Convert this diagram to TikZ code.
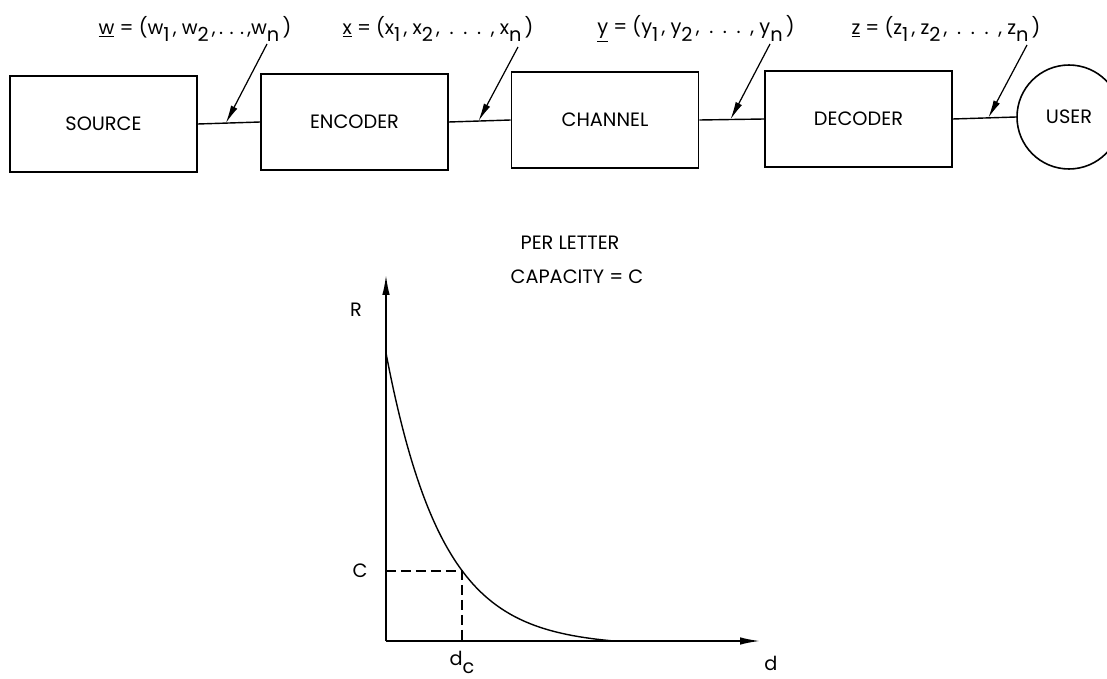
\documentclass[tikz,border=0pt]{standalone}
\usepackage{fontspec}
\setmainfont{Poppins}
\usetikzlibrary{arrows.meta, positioning, calc}
\newcommand{\lowsub}[1]{\raisebox{-0.75ex}{#1}}
\newcommand{\gapdots}{\enspace.\enspace.\enspace.\enspace}

\begin{document}
\begin{tikzpicture}[x=0.02cm, y=-0.02cm,
  blk/.style={draw, line width=0.9pt, minimum width=3.74cm, minimum height=1.92cm,
              inner sep=0pt, font=\fontsize{11}{13}\selectfont},
  usr/.style={draw, circle, line width=0.9pt, minimum size=2.08cm, inner sep=0pt,
              font=\fontsize{11}{13}\selectfont},
  link/.style={line width=0.8pt},
  ptr/.style={-{Latex[length=3.6mm, width=1.4mm]}, line width=0.7pt},
  vec/.style={font=\fontsize{11}{13}\selectfont},
  axis/.style={-{Latex[length=4mm, width=1.5mm]}, line width=0.9pt},
  lbl/.style={font=\fontsize{11}{13}\selectfont},
  guide/.style={dash pattern=on 2mm off 1mm, line width=0.7pt}
]
\useasboundingbox (0,0) rectangle (1107,679);
% ----- chain of blocks -----
\node[blk] (src) at (103.5,124) {SOURCE};
\node[blk] (enc) at (354.5,122) {ENCODER};
\node[blk] (chn) at (605,120) {CHANNEL};
\node[blk] (dec) at (858.5,119) {DECODER};
\node[usr] (usr) at (1069,117) {USER};
\draw[link] (src.east) -- coordinate[pos=0.45] (wpt) (enc.west);
\draw[link] (enc.east) -- coordinate[pos=0.48] (xpt) (chn.west);
\draw[link] (chn.east) -- coordinate[pos=0.48] (ypt) (dec.west);
\draw[link] (dec.east) -- coordinate[pos=0.56] (zpt) (usr.west);
% ----- sequence labels -----
\node[vec] (wlab) at (195,29) {\underline{w} = (w\lowsub{1}\,, w\lowsub{2}\,,\,.\,\,.\,\,.\,,w\lowsub{n}\,)};
\node[vec] (xlab) at (438,29) {\underline{x} = (x\lowsub{1}\,, x\lowsub{2}\,,\gapdots, x\lowsub{n}\,)};
\node[vec] (ylab) at (696,29) {\underline{y} = (y\lowsub{1}\,, y\lowsub{2}\,,\gapdots, y\lowsub{n}\,)};
\node[vec] (zlab) at (946,29) {\underline{z} = (z\lowsub{1}\,, z\lowsub{2}\,,\gapdots, z\lowsub{n}\,)};
\coordinate (wtail) at (267,44);
\coordinate (xtail) at (518,47);
\coordinate (ytail) at (770,44);
\coordinate (ztail) at (1027,45);
\draw[ptr] (wtail) -- (wpt);
\draw[ptr] (xtail) -- (xpt);
\draw[ptr] (ytail) -- (ypt);
\draw[ptr] (ztail) -- (zpt);
% ----- rate vs distortion -----
\node[lbl] (per) at (570,243) {PER LETTER};
\node[lbl] (cap) at (577,277) {CAPACITY = C};
\coordinate (org) at (386,641);
\coordinate (rtop) at (386,275);
\coordinate (dend) at (760,641);
\draw[axis] (org) -- (rtop);
\draw[axis] (org) -- (dend);
\draw[link] plot[domain=386:614, samples=80, smooth] (\x, {646 - 293*exp(-(\x-386)/56)});
\coordinate (cpt) at (462,571);
\coordinate (cy) at (386,571);
\coordinate (cx) at (462,641);
\draw[guide] (cy) -- (cpt) -- (cx);
\node[lbl] (rl) at (356,310) {R};
\node[lbl] (cl) at (360,571) {C};
\node[lbl] (dcl) at (462,662) {d\lowsub{c}};
\node[lbl] (dl) at (771,663) {d};
\end{tikzpicture}
\end{document}
